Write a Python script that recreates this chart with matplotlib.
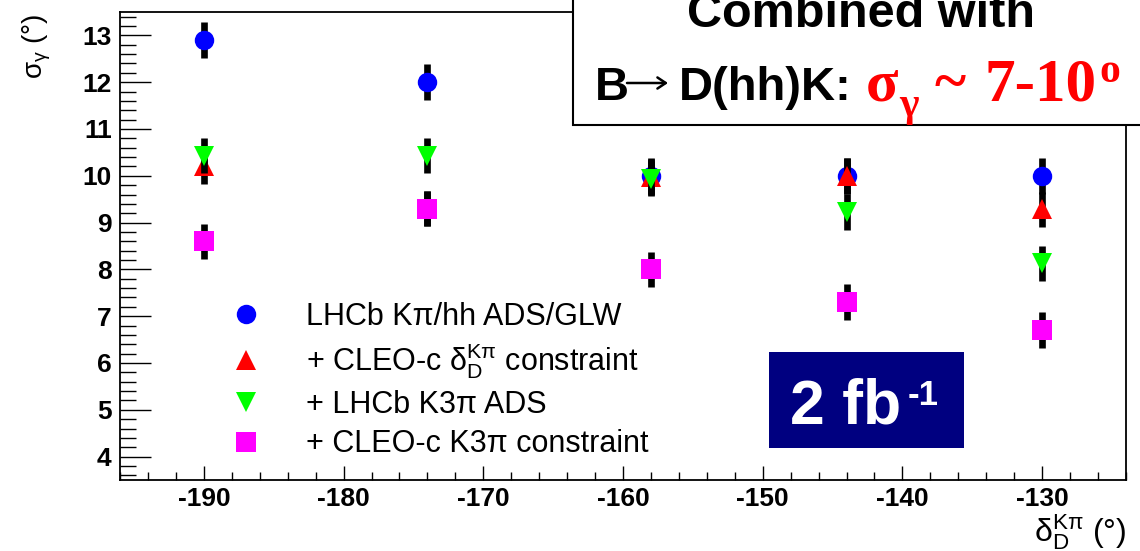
import matplotlib.pyplot as plt
from matplotlib.patches import Rectangle, FancyArrowPatch
from matplotlib.ticker import MultipleLocator

plt.rcParams['font.family'] = ['Liberation Sans', 'DejaVu Sans']
plt.rcParams['mathtext.fontset'] = 'custom'
plt.rcParams['mathtext.rm'] = 'Liberation Sans'
plt.rcParams['mathtext.it'] = 'Liberation Sans:italic'
plt.rcParams['mathtext.bf'] = 'Liberation Sans:bold'

# strong phase points (deg)
delta_d = [-190, -174, -158, -144, -130]

# sigma_gamma (deg) for each combination
sig_ads_glw = [12.9, 12.0, 10.0, 10.0, 10.0]
sig_cleo_kpi = [10.2, 9.3, 9.97, 10.0, 9.28]
sig_k3pi_ads = [10.43, 10.43, 9.94, 9.23, 8.13]
sig_cleo_k3pi = [8.6, 9.3, 8.0, 7.3, 6.7]

err_ads_glw = [0.38, 0.38, 0.38, 0.38, 0.38]
err_cleo_kpi = [0.38, 0.38, 0.38, 0.38, 0.38]
err_k3pi_ads = [0.38, 0.38, 0.38, 0.38, 0.38]
err_cleo_k3pi = [0.38, 0.38, 0.38, 0.38, 0.38]

labels = ['LHCb K\u03c0/hh ADS/GLW',
          r'+ CLEO-c $\mathrm{\delta_{D}^{K\pi}}$ constraint',
          '+ LHCb K3\u03c0 ADS',
          '+ CLEO-c K3\u03c0 constraint']
colors = ['#0000ff', '#ff0000', '#00ff00', '#ff00ff']
markers = ['o', '^', 'v', 's']

xticks = [-190, -180, -170, -160, -150, -140, -130]
yticks = [4, 5, 6, 7, 8, 9, 10, 11, 12, 13]

W, H = 1140, 551


def fx(px):
    return px / W


def fy(py):
    return 1 - py / H


fig = plt.figure(figsize=(11.4, 5.51), dpi=100)
ax = fig.add_axes([fx(120), fy(480), fx(1126) - fx(120), fy(12) - fy(480)])

series = [sig_ads_glw, sig_cleo_kpi, sig_k3pi_ads, sig_cleo_k3pi]
errors = [err_ads_glw, err_cleo_kpi, err_k3pi_ads, err_cleo_k3pi]
handles = []
for i, (y, e) in enumerate(zip(series, errors)):
    ax.errorbar(delta_d, y, yerr=e, fmt='none', ecolor='black',
                elinewidth=4.8, capsize=0, zorder=2 + 2 * i)
    ms = 14.5 if markers[i] == 's' else 14
    h, = ax.plot(delta_d, y, ls='none', marker=markers[i], color=colors[i],
                 markersize=ms, markeredgewidth=0, zorder=3 + 2 * i)
    handles.append(h)

ax.set_xlim(-196, -124)
ax.set_ylim(3.5, 13.5)
ax.set_xticks(xticks, labels=[str(t) for t in xticks], fontweight='bold', fontsize=19)
ax.set_yticks(yticks, labels=[str(t) for t in yticks], fontweight='bold', fontsize=19)
ax.xaxis.set_minor_locator(MultipleLocator(2))
ax.yaxis.set_minor_locator(MultipleLocator(0.2))
ax.tick_params(which='both', direction='in', top=False, right=False, width=1)
ax.tick_params(axis='x', which='major', length=10, pad=5)
ax.tick_params(axis='x', which='minor', length=5.8)
ax.tick_params(axis='y', which='major', length=22, pad=6)
ax.tick_params(axis='y', which='minor', length=11.5)
for s in ax.spines.values():
    s.set_linewidth(1.3)

ax.legend(handles, labels, loc='upper left', fontsize=22,
          bbox_to_anchor=(fx(231), fy(302)), bbox_transform=fig.transFigure,
          frameon=False, handlelength=0.95, handletextpad=1.5, borderpad=0,
          borderaxespad=0, labelspacing=0.3)

# axis titles
fig.text(fx(37), fy(13), r'$\mathrm{\sigma_{\gamma}}$ (°)', rotation=90,
         ha='center', va='top', fontsize=20)
fig.text(fx(1126), fy(541), r'$\mathrm{\delta_{D}^{K\pi}}$ (°)',
         ha='right', va='baseline', fontsize=23)

# luminosity box
fig.add_artist(Rectangle((fx(769), fy(448)), fx(964) - fx(769), fy(352) - fy(448),
                         transform=fig.transFigure, facecolor='#000080',
                         edgecolor='none'))
fig.text(fx(790), fy(423), '2 fb', color='white', fontsize=45,
         fontweight='bold', va='baseline')
fig.text(fx(908), fy(405), '-1', color='white', fontsize=25,
         fontweight='bold', va='baseline')

# combined-result box
fig.add_artist(Rectangle((fx(573), fy(125)), 0.6, 0.4, transform=fig.transFigure,
                         facecolor='white', edgecolor='black', linewidth=1.5,
                         clip_on=False))
fig.text(fx(861), fy(27), 'Combined with', ha='center', va='baseline',
         fontsize=35, fontweight='bold')
fig.text(fx(595), fy(100), 'B', va='baseline', fontsize=34, fontweight='bold')
fig.add_artist(FancyArrowPatch((fx(627), fy(83)), (fx(668), fy(83)),
                               transform=fig.transFigure, arrowstyle='->,head_length=6,head_width=4',
                               color='black', linewidth=1.8, mutation_scale=1,
                               shrinkA=0, shrinkB=0))
fig.text(fx(679), fy(100), 'D(hh)K:', va='baseline', fontsize=34,
         fontweight='bold')
serif = ['Liberation Serif', 'DejaVu Serif']
fig.text(fx(866), fy(100), '\u03c3', va='baseline', fontsize=43,
         fontweight='bold', color='red', family=serif)
fig.text(fx(899), fy(116), '\u03b3', va='baseline', fontsize=30,
         fontweight='bold', color='red', family=serif)
fig.text(fx(935), fy(100), '~', va='baseline', fontsize=43,
         fontweight='bold', color='red', family=serif)
fig.text(fx(984), fy(100), '7-10', va='baseline', fontsize=44,
         fontweight='bold', color='red', family=serif)
fig.text(fx(1099), fy(82), 'o', va='baseline', fontsize=30,
         fontweight='bold', color='red', family=serif)

fig.savefig('out.png', dpi=100)
